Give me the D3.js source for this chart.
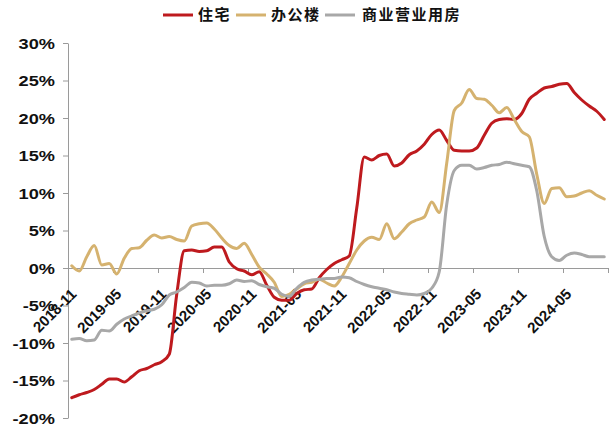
<!DOCTYPE html>
<html>
<head>
<meta charset="utf-8">
<script src="https://cdn.jsdelivr.net/npm/d3@7"></script>
<style>
  html, body { margin: 0; padding: 0; background: #fff; }
  svg { display: block; }
</style>
</head>
<body>
<svg id="chart" width="614" height="425"></svg>
<script>
// Monthly categories: 2018-11 through 2024-10
const startMonth = new Date(2018, 10, 1);
const months = d3.timeMonths(startMonth, new Date(2024, 10, 1)).map(d3.timeFormat("%Y-%m"));

// Axis tick labels (every six months)
const xTickLabels = ["2018-11","2019-05","2019-11","2020-05","2020-11","2021-05",
                     "2021-11","2022-05","2022-11","2023-05","2023-11","2024-05"];
const yTicks = [-20, -15, -10, -5, 0, 5, 10, 15, 20, 25, 30];

// Series names
const seriesNames = ["住宅", "办公楼", "商业营业用房"];

// 住宅 (%)
const residential = [
  -17.3, -16.9, -16.6, -16.2, -15.5, -14.8, -14.8, -15.2, -14.5, -13.7, -13.4, -12.9,
  -12.5, -11.5, -3.5, 2.3, 2.4, 2.2, 2.3, 2.8, 2.8, 0.8, -0.1, -0.4,
  -0.9, -0.5, -2.3, -3.9, -4.3, -4.3, -3.4, -2.9, -2.8, -1.3, -0.2, 0.6,
  1.1, 1.6, 8.0, 14.8, 14.4, 15.0, 15.2, 13.6, 14.0, 15.1, 15.6, 16.5,
  17.8, 18.4, 17.0, 15.7, 15.6, 15.6, 16.0, 17.7, 19.3, 19.8, 19.9, 19.8,
  20.6, 22.5, 23.3, 24.0, 24.2, 24.5, 24.6, 23.4, 22.4, 21.6, 20.9, 19.8
];

// 办公楼 (%)
const office = [
  0.3, -0.4, 1.5, 3.0, 0.4, 0.6, -0.8, 1.3, 2.6, 2.7, 3.7, 4.4,
  4.0, 4.2, 3.8, 3.6, 5.6, 5.9, 6.0, 5.2, 4.0, 3.0, 2.6, 3.3,
  1.8, 0.1, -0.8, -1.9, -3.8, -3.5, -2.8, -2.1, -1.9, -1.5, -2.0, -2.4,
  -1.2, 0.6, 2.4, 3.6, 4.1, 3.8, 5.9, 3.9, 4.8, 5.9, 6.4, 6.8,
  8.8, 7.4, 14.0, 21.0, 22.0, 23.8, 22.6, 22.5, 21.7, 20.7, 21.4, 19.8,
  18.2, 17.5, 12.5, 8.6, 10.6, 10.7, 9.5, 9.6, 10.0, 10.3, 9.7, 9.2
];

// 商业营业用房 (%)
const commercial = [
  -9.5, -9.4, -9.7, -9.6, -8.3, -8.4, -7.5, -6.8, -6.4, -6.0, -5.7, -5.5,
  -4.9, -3.6, -3.2, -2.6, -1.9, -2.0, -2.4, -2.3, -2.3, -2.1, -1.6, -1.8,
  -1.7, -2.2, -2.5, -2.7, -3.5, -3.8, -2.7, -1.9, -1.6, -1.5, -1.4, -1.4,
  -1.2, -1.3, -1.8, -2.2, -2.5, -2.7, -2.9, -3.2, -3.4, -3.5, -3.6, -3.4,
  -2.7, -0.5, 8.5, 13.0, 13.7, 13.7, 13.2, 13.4, 13.7, 13.8, 14.1, 13.9,
  13.7, 13.5, 10.3, 4.2, 1.5, 1.0, 1.7, 2.0, 1.8, 1.5, 1.5, 1.5
];

const seriesColors = ["#BE1A1E", "#D5B26F", "#A8A8A8"];
const seriesData = [residential, office, commercial];

const svg = d3.select("#chart");
svg.append("rect").attr("width", 614).attr("height", 425).attr("fill", "#fff");

const plot = { left: 68, right: 608, top: 43, bottom: 418 };

// Category index scale: month i occupies [i, i+1], point drawn at its centre
const x = d3.scaleLinear().domain([0, months.length]).range([plot.left, plot.right]);
const y = d3.scaleLinear().domain([-20, 30]).range([plot.bottom, plot.top]);

const axisColor = "#9a9a9a";
const textColor = "#111";

// Y axis
const yAxis = svg.append("g")
  .attr("transform", `translate(${plot.left},0)`)
  .call(d3.axisLeft(y).tickValues(yTicks).tickFormat(d => d + "%").tickSize(5).tickSizeOuter(0));
yAxis.select(".domain").attr("stroke", axisColor).attr("stroke-width", 1);
yAxis.selectAll(".tick line").attr("stroke", axisColor);
yAxis.selectAll(".tick text")
  .attr("x", 0).attr("dy", "0.36em")
  .attr("transform", "translate(-13,0) scale(1.3,1)")
  .attr("fill", textColor)
  .style("font-family", "'Liberation Sans', Arial, sans-serif")
  .style("font-weight", "bold")
  .style("font-size", "14px");

// X axis on the zero line
const xTickVals = d3.range(0, months.length + 1, 6);
const xAxis = svg.append("g")
  .attr("transform", `translate(0,${y(0)})`)
  .call(d3.axisBottom(x).tickValues(xTickVals)
    .tickFormat(d => xTickLabels[d / 6] || "")
    .tickSize(5).tickSizeOuter(0));
xAxis.select(".domain").attr("stroke", axisColor).attr("stroke-width", 1);
xAxis.selectAll(".tick line").attr("stroke", axisColor);
xAxis.selectAll(".tick text")
  .attr("x", 0).attr("y", 0).attr("dy", 0)
  .attr("text-anchor", "end")
  .attr("transform", "translate(9,27) rotate(-45)")
  .attr("fill", textColor)
  .style("font-family", "'Liberation Sans', Arial, sans-serif")
  .style("font-weight", "bold")
  .style("font-size", "15px");

// Lines
const line = d3.line()
  .x((d, i) => x(i + 0.5))
  .y(d => y(d))
  .curve(d3.curveMonotoneX);

seriesData.forEach((vals, k) => {
  svg.append("path")
    .datum(vals)
    .attr("fill", "none")
    .attr("stroke", seriesColors[k])
    .attr("stroke-width", 3)
    .attr("stroke-linejoin", "round")
    .attr("stroke-linecap", "round")
    .attr("d", line);
});

// Legend
const legendItems = [
  { x0: 163, tx: 198 },
  { x0: 236, tx: 271 },
  { x0: 325, tx: 362 }
];
const legend = svg.append("g").attr("class", "legend");
seriesNames.forEach((name, k) => {
  const it = legendItems[k];
  legend.append("line")
    .attr("x1", it.x0).attr("x2", it.x0 + 30)
    .attr("y1", 15).attr("y2", 15)
    .attr("stroke", seriesColors[k]).attr("stroke-width", 3);
  legend.append("text")
    .attr("x", it.tx).attr("y", 15).attr("dy", "0.36em")
    .attr("fill", textColor)
    .style("font-family", "'Noto Sans CJK SC', sans-serif")
    .style("font-weight", "bold")
    .style("font-size", "15px")
    .style("letter-spacing", "1.5px")
    .text(name);
});
</script>
</body>
</html>
